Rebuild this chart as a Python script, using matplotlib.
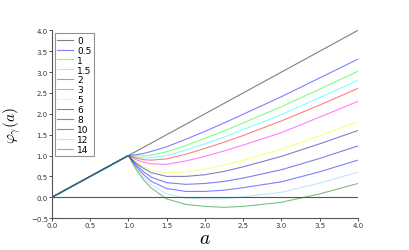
import matplotlib
matplotlib.use("Agg")
import matplotlib.pyplot as plt

plt.rcParams["font.family"] = ["DejaVu Sans"]
plt.rcParams["mathtext.fontset"] = "cm"

# values: all curves follow y = a up to a = 1
a_left = [0.0, 1.0]
a_right = [1.0, 1.05, 1.1, 1.2, 1.3, 1.5, 1.75, 2.0, 2.25, 2.5, 3.0, 3.5, 4.0]

gammas = ["0", "0.5", "1", "1.5", "2", "3", "5", "6", "8", "10", "12", "14"]
phi = {
    "0": [1.0, 1.05, 1.1, 1.2, 1.3, 1.5, 1.75, 2.0, 2.25, 2.5, 3.0, 3.5, 4.0],
    "0.5": [1.00, 1.01, 1.02, 1.05, 1.10, 1.21, 1.39, 1.58, 1.78, 1.99, 2.41, 2.86, 3.31],
    "1": [1.00, 0.99, 0.99, 0.99, 1.01, 1.09, 1.24, 1.41, 1.59, 1.78, 2.17, 2.59, 3.02],
    "1.5": [1.00, 0.98, 0.96, 0.94, 0.95, 1.00, 1.13, 1.28, 1.44, 1.62, 1.98, 2.39, 2.80],
    "2": [1.00, 0.97, 0.94, 0.90, 0.89, 0.92, 1.03, 1.17, 1.32, 1.48, 1.83, 2.21, 2.61],
    "3": [1.00, 0.95, 0.90, 0.84, 0.80, 0.79, 0.87, 0.98, 1.11, 1.25, 1.55, 1.92, 2.30],
    "5": [1.00, 0.92, 0.84, 0.73, 0.65, 0.58, 0.61, 0.67, 0.77, 0.89, 1.15, 1.47, 1.81],
    "6": [1.00, 0.90, 0.82, 0.69, 0.59, 0.50, 0.50, 0.54, 0.62, 0.73, 0.98, 1.28, 1.60],
    "8": [1.00, 0.88, 0.78, 0.61, 0.48, 0.35, 0.31, 0.33, 0.38, 0.46, 0.66, 0.93, 1.23],
    "10": [1.00, 0.86, 0.74, 0.54, 0.38, 0.21, 0.14, 0.14, 0.17, 0.23, 0.37, 0.61, 0.89],
    "12": [1.00, 0.84, 0.70, 0.47, 0.30, 0.08, -0.02, -0.04, -0.04, 0.01, 0.12, 0.34, 0.60],
    "14": [1.00, 0.83, 0.67, 0.41, 0.22, -0.04, -0.17, -0.22, -0.24, -0.22, -0.12, 0.08, 0.33],
}
colors = ["#000000", "#0000ff", "#00ff00", "#00ffff", "#ff0000", "#ff00ff",
          "#ffff00", "#000080", "#0000cc", "#0000ff", "#87cefa", "#008000"]

fig = plt.figure(figsize=(4.09, 2.51), dpi=100)
ax = fig.add_axes([0.127, 0.127, 0.748, 0.748])

for g, c in zip(gammas, colors):
    ax.plot(a_left + a_right[1:], a_left + phi[g][1:], color=c, alpha=0.5, lw=0.8, label=g)

ax.axhline(0, color="#555555", lw=0.8)

ax.set_xlim(0, 4)
ax.set_ylim(-0.5, 4)
ax.set_xticks([0, 0.5, 1, 1.5, 2, 2.5, 3, 3.5, 4])
ax.set_yticks([-0.5, 0, 0.5, 1, 1.5, 2, 2.5, 3, 3.5, 4])
ax.xaxis.set_major_formatter("{x:.1f}")
ax.yaxis.set_major_formatter("{x:.1f}")
ax.tick_params(labelsize=5, length=2, width=0.6, pad=1, colors="#333333")
for s in ["top", "right"]:
    ax.spines[s].set_visible(False)
for s in ["left", "bottom"]:
    ax.spines[s].set_color("#555555")
    ax.spines[s].set_linewidth(0.8)

ax.set_xlabel("$a$", fontsize=14, labelpad=0)
ax.set_ylabel(r"$\varphi_\gamma(a)$", fontsize=11)
ax.yaxis.set_label_coords(-0.098, 0.5)

leg = ax.legend(loc="upper left", fontsize=6.5, labelspacing=0.1, handlelength=1.7,
                handletextpad=0.5, borderpad=0.3, borderaxespad=0.3, fancybox=False,
                edgecolor="#777777")
leg.get_frame().set_linewidth(0.8)

fig.savefig("out.png", dpi=100)
